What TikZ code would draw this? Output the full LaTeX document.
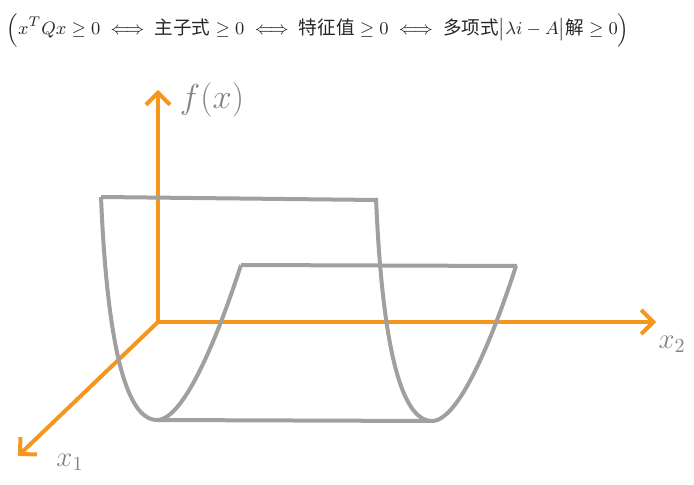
\documentclass[tikz,border=0pt]{standalone}
\usepackage{amsmath,amssymb}
\usepackage{fontspec}
\newfontfamily\cjk{Noto Sans CJK SC}
\usetikzlibrary{arrows.meta}
\definecolor{axisorange}{RGB}{245,150,30}
\definecolor{surfgray}{RGB}{160,160,160}
\definecolor{labelgray}{RGB}{130,130,130}
\tikzset{
  axis/.style={draw=axisorange, line width=2pt, line cap=round,
    -{Straight Barb[length=6pt, width=12pt, line width=2pt]}},
  surface/.style={draw=surfgray, line width=2pt, line join=round},
  axislabel/.style={text=labelgray, font=\Large}
}
\begin{document}
\begin{tikzpicture}[x=0.5pt, y=-0.5pt]
\useasboundingbox (0,0) rectangle (694,485);
\node[font=\fontsize{9.3}{11}\selectfont, text=black!85] (formula) at (318,30) {$\Bigl(x^TQx\geq 0 \iff \text{\cjk 主子式}\geq 0 \iff \text{\cjk 特征值}\geq 0 \iff \text{\cjk 多项式}\bigl|\lambda i-A\bigr|\text{\cjk 解}\geq 0\Bigr)$};
\coordinate (O) at (158,322);
\coordinate (fend) at (158,90);
\coordinate (x2end) at (656,322);
\coordinate (x1end) at (18,456);
\draw[axis] (O) -- (fend);
\draw[axis] (O) -- (x2end);
\draw[axis] (O) -- (x1end);
\draw[surface] (101,197) -- (377,200);
\draw[surface] (241,265) -- (517,266);
\draw[surface] (157,420) -- (430,421);
\foreach \dx/\dy in {0/0, 275/1}
  \draw[surface, shift={(\dx,\dy)}] (101,197) .. controls (107,340) and (125,420) .. (157,420)
    .. controls (185,420) and (220,330) .. (241,265);
\node[axislabel, font=\LARGE] (flabel) at (212,100) {$f(x)$};
\node[axislabel] (x2label) at (672,344) {$x_2$};
\node[axislabel] (x1label) at (70,462) {$x_1$};
\end{tikzpicture}
\end{document}
